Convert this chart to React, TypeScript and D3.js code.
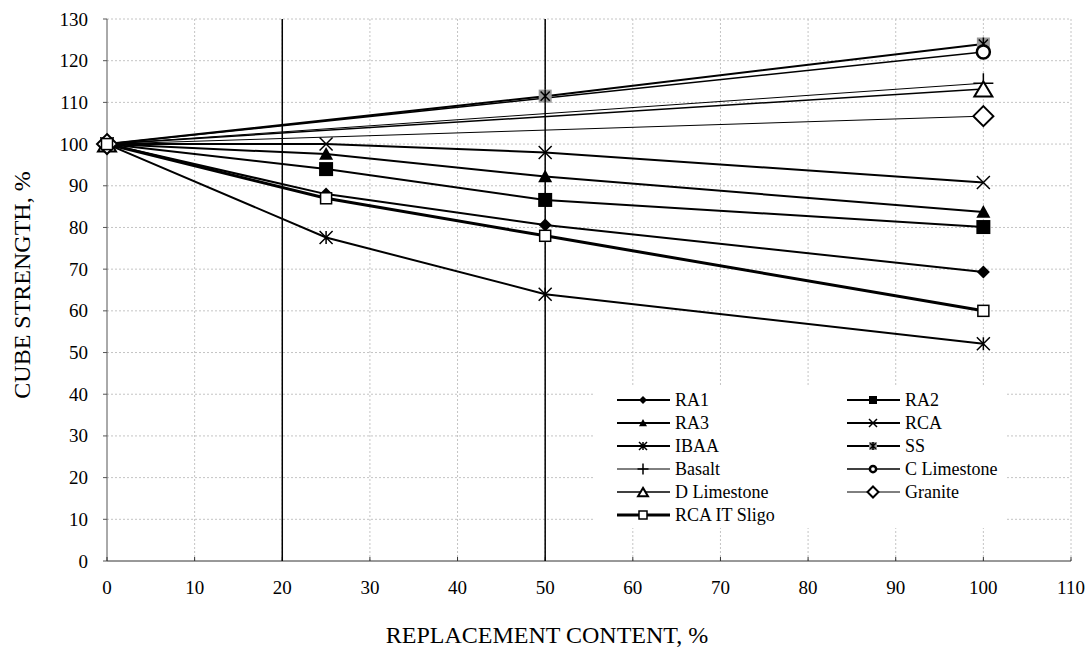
import React from 'react';
import * as d3 from 'd3';

const xValues = [0, 25, 50, 100];
const xTicks = [0, 10, 20, 30, 40, 50, 60, 70, 80, 90, 100, 110];
const yTicks = [0, 10, 20, 30, 40, 50, 60, 70, 80, 90, 100, 110, 120, 130];
const markerLines = [20, 50];

const ra1 = [100, 88, 80.6, 69.3];
const ra2 = [100, 94, 86.6, 80.1];
const ra3 = [100, 97.6, 92.2, 83.7];
const rca = [100, 100, 98, 90.8];
const ibaa = [100, 77.6, 64, 52.1];
const ss = [100, null, 111.5, 124];
const basalt = [100, null, null, 114.6];
const cLimestone = [100, null, null, 122.1];
const dLimestone = [100, null, null, 113.2];
const granite = [100, null, null, 106.7];
const rcaItSligo = [100, 87, 78, 60];

const seriesNames = ['RA1', 'RA2', 'RA3', 'RCA', 'IBAA', 'SS', 'Basalt', 'C Limestone', 'D Limestone', 'Granite', 'RCA IT Sligo'];
const seriesValues = [ra1, ra2, ra3, rca, ibaa, ss, basalt, cLimestone, dLimestone, granite, rcaItSligo];

type Style = { marker: string; size: number; lw: number };
const styles: Style[] = [
  { marker: 'diamond', size: 13, lw: 2 },
  { marker: 'square', size: 14, lw: 2 },
  { marker: 'triangle', size: 14, lw: 2 },
  { marker: 'x', size: 13, lw: 2 },
  { marker: 'star', size: 13, lw: 2 },
  { marker: 'ss', size: 13, lw: 2 },
  { marker: 'plus', size: 20, lw: 1 },
  { marker: 'circle', size: 15, lw: 1.5 },
  { marker: 'otriangle', size: 20, lw: 1.5 },
  { marker: 'odiamond', size: 20, lw: 1 },
  { marker: 'osquare', size: 11, lw: 3 },
];

const font = '"Liberation Serif", "Times New Roman", serif';

function Marker({ type, cx, cy, s }: { type: string; cx: number; cy: number; s: number }) {
  const r = s / 2;
  const t = `translate(${cx},${cy})`;
  switch (type) {
    case 'diamond':
      return <path transform={t} d={`M0,${-r}L${r},0L0,${r}L${-r},0Z`} fill="#000" />;
    case 'square':
      return <rect transform={t} x={-r} y={-r} width={s} height={s} fill="#000" />;
    case 'triangle':
      return <path transform={t} d={`M0,${-r}L${r},${r * 0.8}L${-r},${r * 0.8}Z`} fill="#000" />;
    case 'x':
      return <path transform={t} d={`M${-r},${-r}L${r},${r}M${-r},${r}L${r},${-r}`} stroke="#000" strokeWidth={1.5} />;
    case 'star':
      return (
        <path transform={t} d={`M${-r},${-r}L${r},${r}M${-r},${r}L${r},${-r}M0,${-r}L0,${r}`} stroke="#000" strokeWidth={1.5} />
      );
    case 'ss':
      return (
        <g transform={t}>
          <rect x={-r} y={-r} width={s} height={s} fill="#999" />
          <path d={`M${-r * 0.7},${-r * 0.7}L${r * 0.7},${r * 0.7}M${-r * 0.7},${r * 0.7}L${r * 0.7},${-r * 0.7}M0,${-r}L0,${r}`} stroke="#000" strokeWidth={1.5} />
        </g>
      );
    case 'plus':
      return <path transform={t} d={`M${-r},0L${r},0M0,${-r}L0,${r}`} stroke="#000" strokeWidth={1.5} />;
    case 'circle':
      return <circle transform={t} r={r - 1} fill="#fff" stroke="#000" strokeWidth={2.5} />;
    case 'otriangle':
      return <path transform={t} d={`M0,${-r * 0.75}L${r * 0.9},${r * 0.75}L${-r * 0.9},${r * 0.75}Z`} fill="#fff" stroke="#000" strokeWidth={2} />;
    case 'odiamond':
      return <path transform={t} d={`M0,${-r}L${r},0L0,${r}L${-r},0Z`} fill="#fff" stroke="#000" strokeWidth={2} />;
    case 'osquare':
      return <rect transform={t} x={-r} y={-r} width={s} height={s} fill="#fff" stroke="#000" strokeWidth={1.5} />;
    default:
      return null;
  }
}

export default function App() {
  const width = 1091;
  const height = 648;
  const x = d3.scaleLinear().domain([0, 110]).range([107, 1071]);
  const y = d3.scaleLinear().domain([0, 130]).range([561, 19]);

  const line = d3
    .line<[number, number]>()
    .x(d => x(d[0]))
    .y(d => y(d[1]));

  const series = seriesNames.map((name, i) => ({
    name,
    style: styles[i],
    pts: xValues
      .map((xv, j) => [xv, seriesValues[i][j]] as [number, number | null])
      .filter(p => p[1] != null) as [number, number][],
  }));

  return (
    <svg width={width} height={height} style={{ position: 'absolute', left: 0, top: 0, background: '#fff' }}>
      {/* grid */}
      {yTicks.filter(v => v > 0).map(v => (
        <line key={'gy' + v} x1={x(0)} x2={x(110)} y1={y(v)} y2={y(v)} stroke="#c4c4c4" strokeDasharray="2,2" />
      ))}
      {xTicks.filter(v => v > 0).map(v => (
        <line key={'gx' + v} x1={x(v)} x2={x(v)} y1={y(0)} y2={y(130)} stroke="#c4c4c4" strokeDasharray="2,2" />
      ))}

      {/* legend background */}
      <rect x={595} y={385} width={410} height={143} fill="#fff" />

      {/* axes */}
      <line x1={x(0)} x2={x(0)} y1={y(0)} y2={y(130)} stroke="#555" strokeWidth={1} />
      <line x1={x(0)} x2={x(110)} y1={y(0)} y2={y(0)} stroke="#333" strokeWidth={1} />
      {yTicks.map(v => (
        <g key={'ty' + v}>
          <line x1={x(0) - 4} x2={x(0)} y1={y(v)} y2={y(v)} stroke="#555" />
          <text x={88} y={y(v)} textAnchor="end" dominantBaseline="central" fontFamily={font} fontSize={19}>
            {v}
          </text>
        </g>
      ))}
      {xTicks.map(v => (
        <g key={'tx' + v}>
          <line x1={x(v)} x2={x(v)} y1={y(0) - 4} y2={y(0)} stroke="#333" />
          <text x={x(v)} y={587} textAnchor="middle" dominantBaseline="central" fontFamily={font} fontSize={19}>
            {v}
          </text>
        </g>
      ))}

      {/* reference lines */}
      {markerLines.map(v => (
        <line key={'ml' + v} x1={x(v)} x2={x(v)} y1={y(0)} y2={y(130)} stroke="#000" strokeWidth={1.5} />
      ))}

      {/* series lines */}
      {series.map(s => (
        <path key={'l' + s.name} d={line(s.pts) || ''} fill="none" stroke="#000" strokeWidth={s.style.lw} />
      ))}
      {/* markers */}
      {series.map(s =>
        s.pts.map(p => (
          <Marker key={s.name + p[0]} type={s.style.marker} cx={x(p[0])} cy={y(p[1])} s={s.style.size} />
        ))
      )}

      {/* legend */}
      {series.map((s, i) => {
        const col = i % 2;
        const row = Math.floor(i / 2);
        const lx = col === 0 ? 617 : 847;
        const ly = 400 + row * 23;
        return (
          <g key={'lg' + s.name}>
            <line x1={lx} x2={lx + 53} y1={ly} y2={ly} stroke="#000" strokeWidth={s.style.lw} />
            <Marker type={s.style.marker} cx={lx + 26} cy={ly} s={Math.max(8, s.style.size * 0.55)} />
            <text x={lx + 58} y={ly} dominantBaseline="central" fontFamily={font} fontSize={18}>
              {s.name}
            </text>
          </g>
        );
      })}

      {/* titles */}
      <text x={547} y={635} textAnchor="middle" dominantBaseline="central" fontFamily={font} fontSize={24}>
        REPLACEMENT CONTENT, %
      </text>
      <text
        transform={`translate(22,285) rotate(-90)`}
        textAnchor="middle"
        dominantBaseline="central"
        fontFamily={font}
        fontSize={24}
      >
        CUBE STRENGTH, %
      </text>
    </svg>
  );
}
